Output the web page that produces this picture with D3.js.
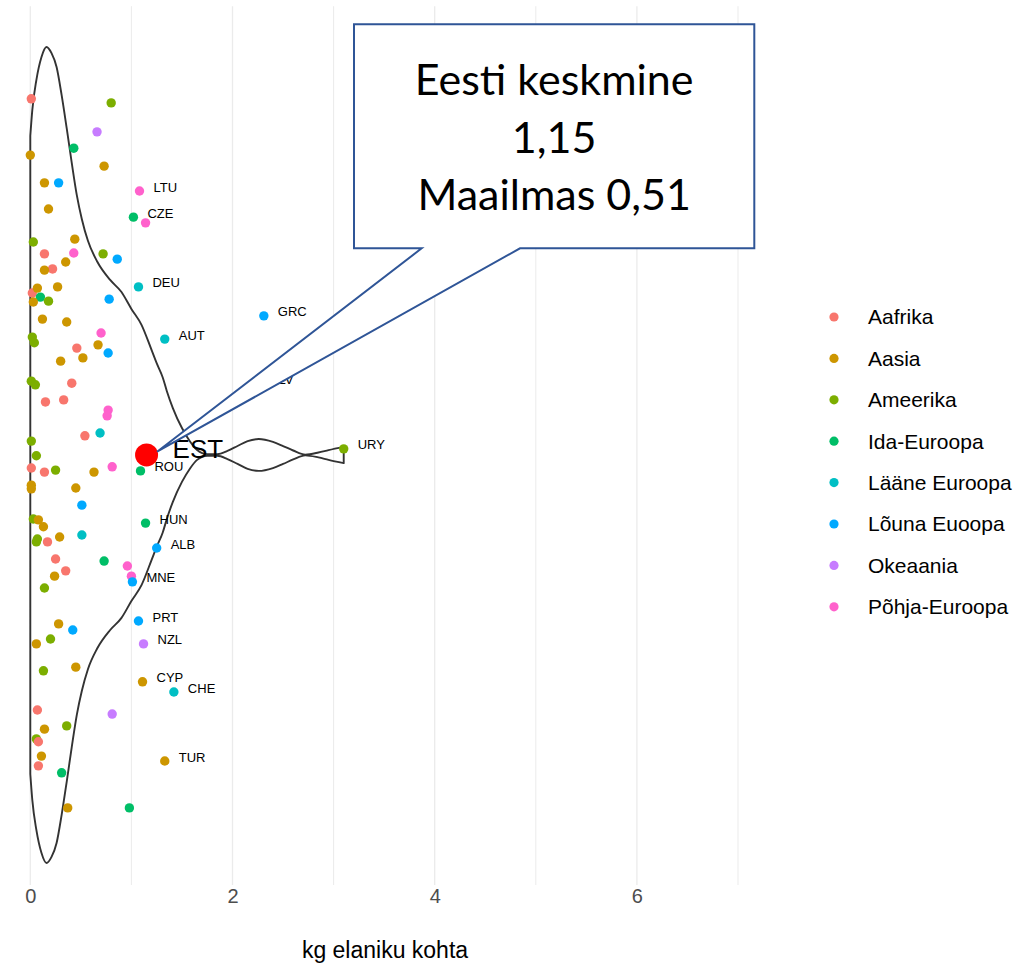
<!DOCTYPE html>
<html><head><meta charset="utf-8">
<script src="https://cdn.jsdelivr.net/npm/d3@7"></script>
<style>
body{margin:0;background:#fff}
svg{display:block}
text{font-family:"Liberation Sans",Arial,sans-serif}
</style>
</head><body>
<svg id="c" width="1027" height="965"></svg>
<script>
// ---------- data ----------
const regions = ["Aafrika","Aasia","Ameerika","Ida-Euroopa","Lääne Euroopa","Lõuna Euoopa","Okeaania","Põhja-Euroopa"];
const regionColors = ["#F8766D","#CD9600","#7CAE00","#00BE67","#00BFC4","#00A9FF","#C77CFF","#FF61CC"];

const countryCodes = [
  "","","","","","","","","LTU","",
  "CZE","","","","","","","","","",
  "","","DEU","","","","","","","",
  "","","AUT","","","","","","","",
  "","","","","","","","","","",
  "","","","","","","ROU","","","",
  "","","","","HUN","","","","","",
  "ALB","","","","","","","MNE","","",
  "","PRT","","","NZL","","","CYP","","",
  "","","","","","","","","","CHE",
  "TUR","GRC","URY","SLV"];
const countryRegion = [
  0,2,6,3,1,1,1,5,7,1,
  3,7,2,1,0,7,2,5,1,0,
  1,1,4,0,1,3,1,2,5,1,
  1,7,4,2,2,0,1,5,1,1,
  2,2,0,0,0,7,7,0,4,2,
  2,0,0,2,1,7,3,1,1,1,
  5,2,1,1,3,2,2,0,1,4,
  5,0,3,7,0,1,7,5,2,1,
  5,5,2,1,6,2,1,1,0,6,
  1,2,2,0,1,0,3,1,3,4,
  1,5,2,2];
const kgPerCapita = [
  0.01,0.80,0.66,0.43,0.00,0.73,0.14,0.28,1.08,0.18,
  1.02,1.14,0.03,0.44,0.14,0.43,0.72,0.86,0.35,0.22,
  0.14,0.27,1.07,0.02,0.07,0.10,0.03,0.18,0.78,0.12,
  0.36,0.70,1.33,0.02,0.04,0.46,0.67,0.77,0.30,0.52,
  0.01,0.05,0.41,0.15,0.33,0.77,0.76,0.54,0.69,0.01,
  0.06,0.01,0.14,0.25,0.63,0.81,1.09,0.01,0.01,0.45,
  0.51,0.03,0.08,0.13,1.14,0.07,0.06,0.17,0.29,0.51,
  1.25,0.25,0.73,0.96,0.35,0.24,1.00,1.01,0.14,0.28,
  0.42,1.07,0.20,0.06,1.12,0.13,0.45,1.11,0.07,0.81,
  0.14,0.36,0.06,0.08,0.11,0.08,0.31,0.37,0.98,1.42,
  1.33,2.31,3.10,2.23];
const jitterY = [
  0.873,0.863,0.792,0.752,0.735,0.708,0.667,0.667,0.647,0.603,
  0.583,0.569,0.522,0.529,0.493,0.495,0.493,0.480,0.473,0.456,
  0.453,0.412,0.412,0.397,0.409,0.387,0.375,0.377,0.382,0.333,
  0.326,0.299,0.284,0.289,0.275,0.262,0.270,0.250,0.230,0.238,
  0.181,0.172,0.176,0.130,0.135,0.110,0.096,0.047,0.054,0.034,
  -0.002,-0.032,-0.042,-0.037,-0.042,-0.029,-0.039,-0.074,-0.083,-0.081,
  -0.123,-0.157,-0.159,-0.176,-0.167,-0.206,-0.213,-0.213,-0.201,-0.196,
  -0.228,-0.255,-0.260,-0.272,-0.284,-0.297,-0.297,-0.311,-0.326,-0.414,
  -0.429,-0.407,-0.451,-0.463,-0.463,-0.529,-0.520,-0.556,-0.625,-0.635,
  -0.672,-0.664,-0.696,-0.703,-0.738,-0.762,-0.779,-0.865,-0.865,-0.581,
  -0.750,0.341,0.015,0.176];

// violin outline (density, scaled so the maximum is 1)
const violinKg = [0,0.02,0.06,0.11,0.16,0.21,0.26,0.31,0.36,0.41,0.46,0.51,0.57,0.66,0.79,0.90,1.00,1.10,1.20,1.25,1.31,1.35,1.41,1.50,1.58,1.65,1.75,1.85,1.95,2.05,2.15,2.26,2.40,2.50,2.60,2.72,2.85,2.95,3.10];
const violinDensity = [0.782,0.846,0.919,0.975,1.0,0.985,0.951,0.882,0.801,0.716,0.637,0.578,0.525,0.475,0.429,0.400,0.358,0.319,0.257,0.225,0.190,0.157,0.115,0.066,0.033,0.012,0.002,0.002,0.010,0.022,0.034,0.039,0.032,0.022,0.011,0.001,0.006,0.012,0.020];

const estCode = "EST";
const estValue = 1.15;
const worldValue = 0.51;
const xTicks = [0,2,4,6];
const xGrid = [0,1,2,3,4,5,6,7];
const calloutLines = ["Eesti keskmine", "1,15", "Maailmas 0,51"];
const xTitle = "kg elaniku kohta";

// ---------- scales ----------
const svg = d3.select("#c");
const x = d3.scaleLinear().domain([0,7]).range([30.3, 738]);
const y = d3.scaleLinear().domain([-1.054,1.1]).range([885, 6.2]);
const color = d3.scaleOrdinal().domain(regions).range(regionColors);

// gridlines
svg.append("g").selectAll("line").data(xGrid).join("line")
  .attr("x1", d=>x(d)).attr("x2", d=>x(d))
  .attr("y1", y.range()[1]).attr("y2", y.range()[0])
  .attr("stroke", "#EBEBEB").attr("stroke-width", d=> d%2===0 ? 1.3 : 1.0);

// violin
const vdata = violinKg.map((v,i)=>({v, d: violinDensity[i]}));
const area = d3.area().x(d=>x(d.v)).y0(d=>y(-d.d)).y1(d=>y(d.d)).curve(d3.curveMonotoneX);
svg.append("path").datum(vdata).attr("d", area)
  .attr("fill","none").attr("stroke","#333333").attr("stroke-width",1.9).attr("stroke-linejoin","round");

// points
const pts = kgPerCapita.map((v,i)=>({v, j: jitterY[i], r: regions[countryRegion[i]], code: countryCodes[i]}));
svg.append("g").selectAll("circle").data(pts).join("circle")
  .attr("cx", d=>x(d.v)).attr("cy", d=>y(d.j)).attr("r", 4.7)
  .attr("fill", d=>color(d.r));

// labels
svg.append("g").selectAll("text").data(pts.filter(d=>d.code)).join("text")
  .attr("x", d=>x(d.v)+14).attr("y", d=>y(d.j)-4).attr("dy","0.35em")
  .attr("font-size", 13).attr("fill","#000").text(d=>d.code);

// Estonia
svg.append("circle").attr("cx", x(estValue)).attr("cy", y(0)).attr("r", 11.5).attr("fill", "#FF0000");
svg.append("text").attr("x", x(estValue)+26).attr("y", y(0)+3).attr("font-size", 26).attr("fill","#000").text(estCode);

// callout
const tip = [x(estValue)+10.5, y(0)-3.3];
const bx0 = 354, bx1 = 754.3, by0 = 24.3, by1 = 248.3, g0 = 421.7, g1 = 520;
const cp = d3.path();
cp.moveTo(g0, by1); cp.lineTo(tip[0], tip[1]); cp.lineTo(g1, by1);
cp.lineTo(bx1, by1); cp.lineTo(bx1, by0); cp.lineTo(bx0, by0); cp.lineTo(bx0, by1); cp.closePath();
svg.append("path").attr("d", cp.toString()).attr("fill","#fff").attr("stroke","#2F5597")
  .attr("stroke-width",2).attr("stroke-linejoin","miter");
svg.append("g").selectAll("text").data(calloutLines).join("text")
  .attr("x", (bx0+bx1)/2).attr("y", (d,i)=>95 + i*57.5)
  .attr("text-anchor","middle").attr("font-size", 43).attr("fill","#000")
  .style("font-family","Lato, 'Open Sans', sans-serif").text(d=>d);

// x axis
const ax = svg.append("g").attr("transform", `translate(0,${887})`)
  .call(d3.axisBottom(x).tickValues(xTicks).tickSize(0).tickPadding(2).tickFormat(d3.format("d")));
ax.select(".domain").remove();
ax.selectAll("text").attr("font-size", 20).attr("fill","#4D4D4D")
  .style("font-family","'Liberation Sans', Arial, sans-serif");
svg.append("text").attr("x", 385).attr("y", 958).attr("text-anchor","middle")
  .attr("font-size", 23).attr("fill","#000").text(xTitle);

// legend
const lg = svg.append("g").selectAll("g").data(regions).join("g")
  .attr("transform", (d,i)=>`translate(0,${317 + i*41.4})`);
lg.append("circle").attr("cx", 834).attr("cy", 0).attr("r", 4.6).attr("fill", d=>color(d));
lg.append("text").attr("x", 868).attr("dy","0.35em").attr("font-size", 21).attr("fill","#000").text(d=>d);
</script>
</body></html>
